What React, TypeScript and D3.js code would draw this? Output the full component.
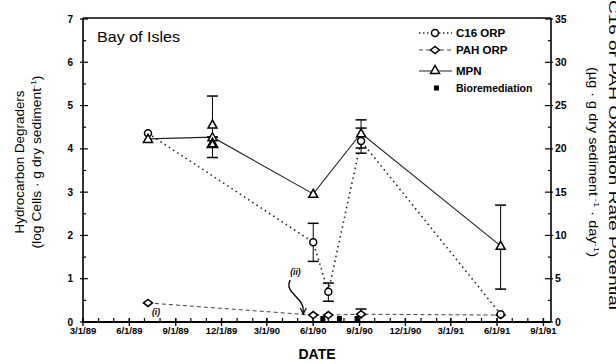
import React from "react";
import * as d3 from "d3";

// ---------- data ----------
const c16Dates = ["1989-07-08", "1990-06-01", "1990-07-01", "1990-09-04", "1991-06-08"];
const c16Values = [21.8, 9.2, 3.5, 20.9, 0.9];
const c16Low: (number | null)[] = [null, 7.0, 2.4, 20.1, null];
const c16High: (number | null)[] = [null, 11.4, 4.5, 22.4, null];

const pahDates = ["1989-07-08", "1990-06-01", "1990-07-01", "1990-09-04", "1991-06-08"];
const pahValues = [2.2, 0.8, 0.8, 0.9, 0.8];
const pahLow: (number | null)[] = [null, null, null, 0.4, null];
const pahHigh: (number | null)[] = [null, null, null, 1.5, null];

const mpnDates = ["1989-07-08", "1989-11-13", "1990-06-01", "1990-09-04", "1991-06-08"];
const mpnValues = [4.23, 4.27, 2.96, 4.36, 1.76];
const mpnLow: (number | null)[] = [null, null, null, 3.9, 0.76];
const mpnHigh: (number | null)[] = [null, null, null, 4.67, 2.7];

const mpnRepDates = ["1989-11-13", "1989-11-13"];
const mpnRepValues = [4.56, 4.12];
const mpnRepLow = [4.27, 3.8];
const mpnRepHigh = [5.22, 4.27];

const bioDates = ["1990-06-20", "1990-07-23", "1990-08-27"];
const bioValues = [0.4, 0.4, 0.4];

const xTickLabels = ["3/1/89", "6/1/89", "9/1/89", "12/1/89", "3/1/90", "6/1/90", "9/1/90", "12/1/90", "3/1/91", "6/1/91", "9/1/91"];
const leftTicks = [0, 1, 2, 3, 4, 5, 6, 7];
const rightTicks = [0, 5, 10, 15, 20, 25, 30, 35];

const legendLabels = ["C16 ORP", "PAH ORP", "MPN", "Bioremediation"];

const parse = d3.timeParse("%Y-%m-%d");
const parseLabel = d3.timeParse("%m/%d/%y");

const FONT = "'Liberation Sans', Arial, Helvetica, sans-serif";

export default function App() {
  const W = 616, H = 364;
  const x0 = 83, x1 = 551, yTop = 19, yBot = 322;

  const x = d3.scaleTime()
    .domain([parse("1989-03-01")!, parse("1991-09-16")!])
    .range([x0, x1]);
  const yL = d3.scaleLinear().domain([0, 7]).range([yBot, yTop]);
  const yR = d3.scaleLinear().domain([0, 35]).range([yBot, yTop]);

  const monthTicks = d3.timeMonth.range(parse("1989-03-01")!, parse("1991-09-17")!);
  const quarterDates = xTickLabels.map((l) => parseLabel(l)!);

  const lineGen = (ys: d3.ScaleLinear<number, number>) =>
    d3.line<[Date, number]>().x((d) => x(d[0])).y((d) => ys(d[1]));

  const c16Pts: [Date, number][] = c16Dates.map((d, i) => [parse(d)!, c16Values[i]]);
  const pahPts: [Date, number][] = pahDates.map((d, i) => [parse(d)!, pahValues[i]]);
  const mpnPts: [Date, number][] = mpnDates.map((d, i) => [parse(d)!, mpnValues[i]]);

  const circle = (cx: number, cy: number, key: string) => (
    <circle key={key} cx={cx} cy={cy} r={3.5} fill="white" stroke="black" strokeWidth={1.5} />
  );
  const diamond = (cx: number, cy: number, key: string) => (
    <path key={key} d={`M${cx - 4.5},${cy} L${cx},${cy - 3.5} L${cx + 4.5},${cy} L${cx},${cy + 3.5} Z`} fill="white" stroke="black" strokeWidth={1.5} />
  );
  const tri = (cx: number, cy: number, key: string, sw = 1.5) => (
    <path key={key} d={`M${cx - 4.5},${cy + 3.5} L${cx},${cy - 4.5} L${cx + 4.5},${cy + 3.5} Z`} fill="white" stroke="black" strokeWidth={sw} />
  );
  const errBar = (cx: number, ylo: number, yhi: number, key: string, capLo = true, capHi = true) => (
    <g key={key} stroke="black" strokeWidth={1}>
      <line x1={cx} x2={cx} y1={ylo} y2={yhi} />
      {capLo && <line x1={cx - 5.5} x2={cx + 5.5} y1={ylo} y2={ylo} strokeWidth={1.5} />}
      {capHi && <line x1={cx - 5.5} x2={cx + 5.5} y1={yhi} y2={yhi} strokeWidth={1.5} />}
    </g>
  );

  const pahI = pahPts[0];
  const pahII = pahPts[1];

  return (
    <svg width={W} height={H} style={{ position: "absolute", left: 0, top: 0, background: "white" }} fontFamily={FONT}>
      <rect x={0} y={0} width={W} height={H} fill="white" />

      {/* frame */}
      <line x1={x0} x2={x1} y1={yTop - 1} y2={yTop - 1} stroke="black" strokeWidth={1.3} />
      <line x1={x0} x2={x0} y1={yTop - 1} y2={yBot} stroke="black" strokeWidth={1.6} />
      <line x1={x1} x2={x1} y1={yTop - 1} y2={yBot} stroke="black" strokeWidth={1.6} />
      <line x1={x0} x2={x1} y1={yBot} y2={yBot} stroke="black" strokeWidth={1.8} />

      {/* left ticks */}
      {d3.range(0, 7.01, 0.5).map((v) => {
        const major = Math.abs(v - Math.round(v)) < 1e-6;
        return (
          <line key={"lt" + v} x1={major ? x0 - 3 : x0} x2={x0 + (major ? 5 : 3)} y1={yL(v)} y2={yL(v)} stroke="black" strokeWidth={1.2} />
        );
      })}
      {leftTicks.map((v) => (
        <text key={"ll" + v} x={73} y={yL(v) + 3.5} textAnchor="end" fontSize={10} fontWeight="bold">{v}</text>
      ))}

      {/* right ticks */}
      {d3.range(0, 35.01, 2.5).map((v) => {
        const major = v % 5 === 0;
        return (
          <line key={"rt" + v} x1={x1 - (major ? 6 : 3)} x2={x1 + (major ? 2 : 0)} y1={yR(v)} y2={yR(v)} stroke="black" strokeWidth={1.2} />
        );
      })}
      {rightTicks.map((v) => (
        <text key={"rl" + v} x={555} y={yR(v) + 3.5} textAnchor="start" fontSize={10.5} fontWeight="bold">{v}</text>
      ))}

      {/* x ticks */}
      {monthTicks.map((d, i) => (
        <line key={"mt" + i} x1={x(d)} x2={x(d)} y1={yBot - 4} y2={yBot} stroke="black" strokeWidth={1.2} />
      ))}
      {quarterDates.map((d, i) => (
        <line key={"qt" + i} x1={x(d)} x2={x(d)} y1={yBot - 4} y2={yBot + 4} stroke="black" strokeWidth={1.4} />
      ))}
      {quarterDates.map((d, i) => (
        <text key={"ql" + i} x={x(d)} y={334} textAnchor="middle" fontSize={9.5} fontWeight="bold">{xTickLabels[i]}</text>
      ))}

      {/* axis titles */}
      <text x={317} y={359} textAnchor="middle" fontSize={14} fontWeight="bold">DATE</text>
      <g transform="translate(24,162) rotate(-90)">
        <text x={0} y={0} textAnchor="middle" fontSize={12.5} textLength={143} lengthAdjust="spacingAndGlyphs">Hydrocarbon Degraders</text>
      </g>
      <g transform="translate(41,162) rotate(-90)">
        <text x={0} y={0} textAnchor="middle" fontSize={12.5} textLength={173} lengthAdjust="spacingAndGlyphs">
          (log Cells · g dry sediment<tspan fontSize={8} dy={-5}>-1</tspan><tspan dy={5}>)</tspan>
        </text>
      </g>
      <g transform="translate(609,155) rotate(90)">
        <text x={0} y={0} textAnchor="middle" fontSize={13} textLength={310} lengthAdjust="spacingAndGlyphs">C16 or PAH Oxidation Rate Potential</text>
      </g>
      <g transform="translate(589,162) rotate(90)">
        <text x={0} y={0} textAnchor="middle" fontSize={12} textLength={190} lengthAdjust="spacingAndGlyphs">
          (µg · g dry sediment<tspan fontSize={8} dy={-5}> -1</tspan><tspan dy={5}> · day</tspan><tspan fontSize={8} dy={-5}>-1</tspan><tspan dy={5}>)</tspan>
        </text>
      </g>

      {/* title */}
      <text x={97} y={42} fontSize={15} textLength={83} lengthAdjust="spacingAndGlyphs">Bay of Isles</text>

      {/* series lines */}
      <path d={lineGen(yR)(pahPts)!} fill="none" stroke="#444" strokeWidth={1} strokeDasharray="4,3" />
      <path d={lineGen(yR)(c16Pts)!} fill="none" stroke="#222" strokeWidth={1.6} strokeDasharray="1.5,3.5" />
      <path d={lineGen(yL)(mpnPts)!} fill="none" stroke="#222" strokeWidth={1.1} />

      {/* error bars */}
      {mpnPts.map((p, i) =>
        mpnLow[i] != null ? errBar(x(p[0]), yL(mpnLow[i]!), yL(mpnHigh[i]!), "me" + i) : null
      )}
      {mpnRepDates.map((d, i) =>
        errBar(x(parse(d)!), yL(mpnRepLow[i]), yL(mpnRepHigh[i]), "mre" + i)
      )}
      {c16Pts.map((p, i) =>
        c16Low[i] != null ? errBar(x(p[0]), yR(c16Low[i]!), yR(c16High[i]!), "ce" + i) : null
      )}
      {pahPts.map((p, i) =>
        pahLow[i] != null ? errBar(x(p[0]), yR(pahLow[i]!), yR(pahHigh[i]!), "pe" + i, false, true) : null
      )}

      {/* bioremediation markers */}
      {bioDates.map((d, i) => (
        <rect key={"b" + i} x={x(parse(d)!) - 2.5} y={yR(bioValues[i]) - 2.5} width={5} height={5} fill="black" />
      ))}

      {/* markers */}
      {pahPts.map((p, i) => diamond(x(p[0]), yR(p[1]), "pm" + i))}
      {c16Pts.map((p, i) => circle(x(p[0]), yR(p[1]), "cm" + i))}
      {mpnPts.map((p, i) => tri(x(p[0]), yL(p[1]), "mm" + i))}
      {mpnRepDates.map((d, i) => tri(x(parse(d)!), yL(mpnRepValues[i]), "mr" + i, i === 1 ? 2.4 : 1.5))}

      {/* annotations */}
      <text x={x(pahI[0]) + 4} y={yR(pahI[1]) + 12} fontSize={8.5} fontStyle="italic" fontWeight="bold">(i)</text>
      <text x={x(pahII[0]) - 23} y={yR(pahII[1]) - 40} fontSize={8.5} fontStyle="italic" fontWeight="bold">(ii)</text>
      <path
        d={`M${x(pahII[0]) - 23},${yR(pahII[1]) - 35} C${x(pahII[0]) - 30},${yR(pahII[1]) - 22} ${x(pahII[0]) - 8},${yR(pahII[1]) - 18} ${x(pahII[0]) - 10},${yR(pahII[1]) - 3}`}
        fill="none" stroke="black" strokeWidth={1.4}
      />
      <path
        d={`M${x(pahII[0]) - 13},${yR(pahII[1]) - 7} L${x(pahII[0]) - 10},${yR(pahII[1]) - 1} L${x(pahII[0]) - 7},${yR(pahII[1]) - 7}`}
        fill="none" stroke="black" strokeWidth={1.2}
      />

      {/* legend */}
      <g>
        <line x1={419} x2={452} y1={33} y2={33} stroke="#222" strokeWidth={1.4} strokeDasharray="1.5,2.5" />
        {circle(435, 33, "lg0")}
        <line x1={419} x2={452} y1={50} y2={50} stroke="#444" strokeWidth={1} strokeDasharray="4,3" />
        {diamond(435, 50, "lg1")}
        <line x1={419} x2={452} y1={71} y2={71} stroke="#222" strokeWidth={1} />
        {tri(435, 70, "lg2")}
        <rect x={434} y={85.5} width={5} height={5} fill="black" />
        {legendLabels.map((l, i) => (
          <text key={"lt" + i} x={456} y={[37, 54, 75, 92][i]} fontSize={i === 3 ? 10.5 : 11.5} fontWeight="bold">{l}</text>
        ))}
      </g>
    </svg>
  );
}
